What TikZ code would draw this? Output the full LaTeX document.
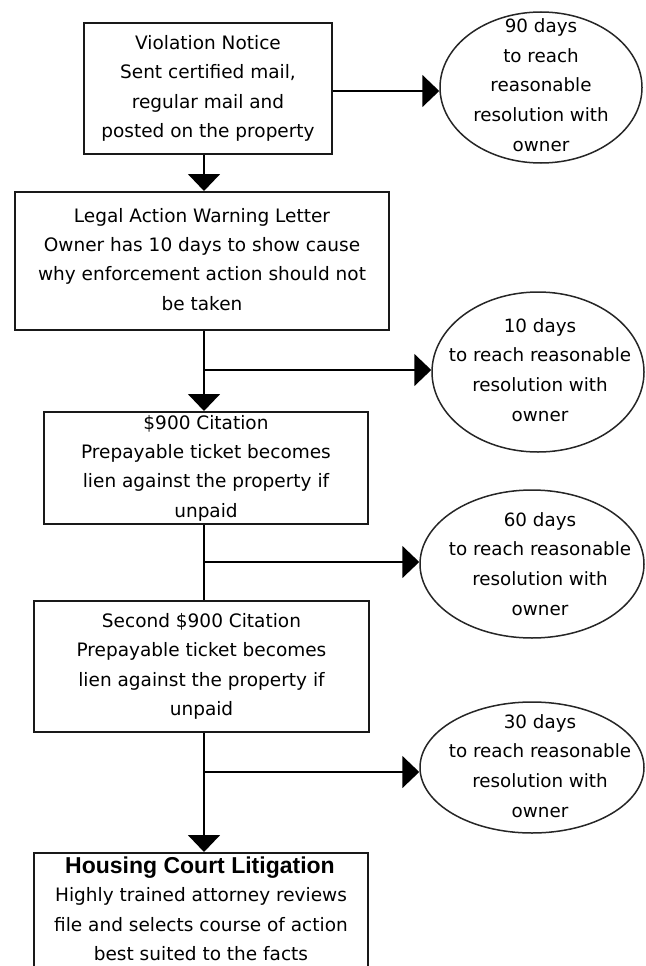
\documentclass[tikz,border=0pt]{standalone}
\usepackage{fontspec}
\setmainfont{DejaVu Sans}
\newfontfamily\titlefont{Liberation Sans}
\usetikzlibrary{arrows.meta,shapes.geometric}
\begin{document}
\begin{tikzpicture}[x=1pt,y=-1pt,
  box/.style={draw=black!90,line width=2pt,rectangle,inner sep=0pt,align=center,
    font=\fontsize{18.5}{29.3}\selectfont},
  oval/.style={draw=black!85,line width=1.5pt,ellipse,inner sep=0pt},
  otext/.style={align=center,inner sep=0pt,font=\fontsize{18.3}{29.8}\selectfont},
  btext/.style={align=center,inner sep=0pt,font=\fontsize{18.5}{29.5}\selectfont},
  ttext/.style={inner sep=0pt,font=\titlefont\bfseries\fontsize{23}{26}\selectfont},
  link/.style={line width=2pt},
  arr/.style={link,-{Triangle[length=17pt,width=32pt]}}]
\useasboundingbox (0,0) rectangle (645,966);
\clip (0,0) rectangle (645,966);
\coordinate (spine) at (204,0);

% boxes
\node[box,minimum width=248pt,minimum height=131pt] (b1) at (208,88.5)
  {Violation Notice\\Sent certified mail,\\regular mail and\\posted on the property};
\node[box,minimum width=374pt,minimum height=138pt] (b2) at (202,261)
  {Legal Action Warning Letter\\Owner has 10 days to show cause\\why enforcement action should not\\be taken\vphantom{p}};
\node[box,minimum width=324pt,minimum height=112pt] (b3) at (206,468)
  {\$900 Citation\\Prepayable ticket becomes\\lien against the property if\\unpaid};
\node[box,minimum width=335pt,minimum height=131pt] (b4) at (201.5,666.5)
  {Second \$900 Citation\\Prepayable ticket becomes\\lien against the property if\\unpaid};
\node[box,minimum width=334pt,minimum height=160pt,anchor=north] (b5) at (201,852) {};
\node[ttext,anchor=base] (b5t) at (200,873) {Housing Court Litigation};
\node[btext] (b5b) at (201,924.5)
  {Highly trained attorney reviews\\file and selects course of action\\best suited to the facts};

% ellipses
\node[oval,minimum width=202pt,minimum height=151pt] (e1) at (541,87.5) {};
\node[otext] (e1t) at (541,85) {90 days\\to reach\\reasonable\\resolution with\\owner};
\node[oval,minimum width=212pt,minimum height=160pt] (e2) at (538,372) {};
\node[otext] (e2t) at (540,370) {10 days\\to reach reasonable\\resolution with\\owner};
\node[oval,minimum width=224pt,minimum height=148pt] (e3) at (532,564) {};
\node[otext] (e3t) at (540,564) {60 days\\to reach reasonable\\resolution with\\owner};
\node[oval,minimum width=224pt,minimum height=131pt] (e4) at (532,767.5) {};
\node[otext] (e4t) at (540,766) {30 days\\to reach reasonable\\resolution with\\owner};

% branch points
\coordinate (br0) at (332,91);
\coordinate (br1) at (204,370);
\coordinate (br2) at (204,562);
\coordinate (br3) at (204,772);

% connectors
\draw[arr] (br0 -| b1.east) -- (br0 -| e1.west);
\draw[arr] (b1.south -| spine) -- (b2.north -| spine);
\draw[arr] (b2.south -| spine) -- (b3.north -| spine);
\draw[arr] (br1) -- (br1 -| e2.west);
\draw[link] (b3.south -| spine) -- (b4.north -| spine);
\draw[arr] (br2) -- (br2 -| e3.west);
\draw[arr] (b4.south -| spine) -- (b5.north -| spine);
\draw[arr] (br3) -- (br3 -| e4.west);
\end{tikzpicture}
\end{document}
